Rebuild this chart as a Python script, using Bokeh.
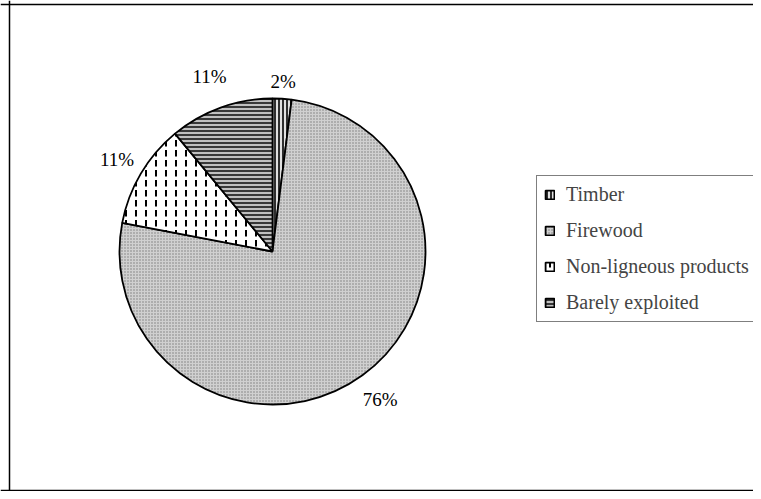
import math
from bokeh.plotting import figure
from bokeh.models import Range1d, Legend, LegendItem, Span, ColumnDataSource
from bokeh.embed import file_html
from bokeh.resources import INLINE
from bokeh.core.properties import value

# ---- data ----
categories = ["Timber", "Firewood", "Non-ligneous products", "Barely exploited"]
shares = [2, 76, 11, 11]
pct_labels = ["2%", "76%", "11%", "11%"]

# ---- styles ----
fills = ["#e0e0e0", "#d0d0d0", "#ffffff", "#c0c0c0"]
hatches = ["vertical_line", "dot", "vertical_dash", "horizontal_line"]
hatch_colors = ["#2e2e2e", "#7a7a7a", "#000000", "#383838"]
hatch_scales = [4, 3, 10, 4]
hatch_weights = [2, 1, 2, 2]
label_gaps = [9, 14, 9, 20]

FONT = "Liberation Serif"
FS = 19
LFS = 20

W, H = 753, 491
p = figure(width=W, height=H, x_range=Range1d(0, W), y_range=Range1d(0, H),
           output_backend="svg", toolbar_location=None, min_border=0,
           x_axis_location=None, y_axis_location=None)
p.grid.visible = False
p.outline_line_color = None
p.background_fill_color = "white"

# frame lines (left, top, bottom)
p.add_layout(Span(location=9, dimension="height", line_color="black", line_width=1.5))
p.add_layout(Span(location=H - 4, dimension="width", line_color="black", line_width=1.5))
p.add_layout(Span(location=1, dimension="width", line_color="black", line_width=1.5))

cx, cy, r = 272, H - 251, 153
total = float(sum(shares))

renderers = []
lx, ly = [], []
cum = 0.0
for i, s in enumerate(shares):
    f0 = cum / total
    f1 = (cum + s) / total
    cum += s
    start = math.pi / 2 - 2 * math.pi * f0
    end = math.pi / 2 - 2 * math.pi * f1
    rr = p.wedge(x=cx, y=cy, radius=r, start_angle=start, end_angle=end,
                 direction="clock", fill_color=fills[i], line_color="black",
                 line_width=1.8, hatch_pattern=hatches[i], hatch_color=hatch_colors[i],
                 hatch_scale=hatch_scales[i], hatch_weight=hatch_weights[i])
    renderers.append(rr)
    fm = (f0 + f1) / 2
    th = 2 * math.pi * fm
    dx, dy = math.sin(th), math.cos(th)
    lab = pct_labels[i]
    w = FS * (0.5 * (len(lab) - 1) + 0.833)
    h = FS * 0.75
    d = r + label_gaps[i] + (w / 2) * abs(dx) + (h / 2) * abs(dy)
    lx.append(cx + d * dx)
    ly.append(cy + d * dy)

src = ColumnDataSource(dict(x=lx, y=ly, t=pct_labels))
p.text(x="x", y="y", text="t", source=src, text_align="center", text_baseline="middle",
       text_font=value(FONT), text_font_size=f"{FS}px", text_color="black")

legend = Legend(items=[LegendItem(label=categories[i], renderers=[renderers[i]])
                       for i in range(len(categories))],
                location=(536, 169), label_text_font=FONT, label_text_font_size=f"{LFS}px",
                glyph_width=11, glyph_height=11, label_height=22, spacing=13, padding=7,
                margin=0, border_line_color="black", border_line_width=1,
                label_standoff=11, background_fill_alpha=1.0)
p.add_layout(legend)

open("out.html", "w").write(file_html(p, INLINE))
